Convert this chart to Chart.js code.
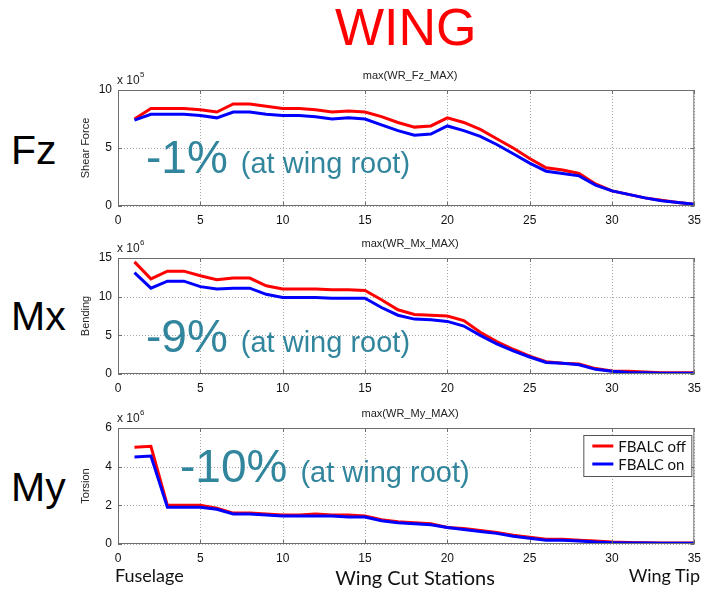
<!DOCTYPE html>
<html><head><meta charset="utf-8">
<script src="https://cdn.jsdelivr.net/npm/chart.js@4"></script>
<style>
body{margin:0;background:#fff;width:708px;height:591px;position:relative;overflow:hidden;font-family:"Liberation Sans",Arial,sans-serif}
.t{position:absolute;white-space:nowrap;line-height:1}
canvas{position:absolute}
.big{font-size:41px;color:#000}
.ann{font-size:46px;color:#31859C}
.ann span{font-size:29px;margin-left:13px}
.cal{font-family:Lato,"Open Sans",sans-serif;color:#111}
</style></head><body>
<div class="t" style="left:335px;top:1px;font-size:52px;color:#ff0000">WING</div>
<div class="t big" style="left:11px;top:130px">Fz</div>
<div class="t big" style="left:11px;top:296px">Mx</div>
<div class="t big" style="left:11px;top:467px">My</div>
<canvas id="c1" width="638" height="165" style="left:70px;top:60px"></canvas>
<canvas id="c2" width="638" height="165" style="left:70px;top:230px"></canvas>
<canvas id="c3" width="638" height="165" style="left:70px;top:400px"></canvas>
<div class="t ann" style="left:146px;top:134px">-1%<span>(at wing root)</span></div>
<div class="t ann" style="left:146px;top:313px">-9%<span>(at wing root)</span></div>
<div class="t ann" style="left:180px;top:443px">-10%<span>(at wing root)</span></div>
<div class="t cal" style="left:115px;top:566px;font-size:18px">Fuselage</div>
<div class="t cal" style="left:315px;width:200px;text-align:center;top:567px;font-size:20px">Wing Cut Stations</div>
<div class="t cal" style="left:600px;width:100px;text-align:right;top:566px;font-size:18px">Wing Tip</div>
<script>
const stations = [1,2,3,4,5,6,7,8,9,10,11,12,13,14,15,16,17,18,19,20,21,22,23,24,25,26,27,28,29,30,31,32,33,34,35];
const seriesNames = ['FBALC off','FBALC on'];
const fzOff = [7.5,8.4,8.4,8.4,8.3,8.1,8.8,8.8,8.6,8.4,8.4,8.3,8.1,8.2,8.1,7.7,7.2,6.8,6.9,7.6,7.2,6.6,5.8,5.0,4.1,3.3,3.1,2.8,1.9,1.3,1.0,0.7,0.5,0.3,0.15];
const fzOn  = [7.4,7.9,7.9,7.9,7.8,7.6,8.1,8.1,7.9,7.8,7.8,7.7,7.5,7.6,7.5,7.0,6.5,6.1,6.2,6.9,6.5,6.0,5.3,4.5,3.7,3.0,2.8,2.6,1.8,1.3,1.0,0.7,0.45,0.3,0.15];
const mxOff = [14.5,12.3,13.3,13.3,12.7,12.2,12.4,12.4,11.4,11.0,11.0,11.0,10.9,10.9,10.8,9.6,8.3,7.7,7.6,7.5,6.9,5.4,4.2,3.2,2.3,1.6,1.4,1.3,0.7,0.4,0.35,0.25,0.15,0.15,0.15];
const mxOn  = [13.1,11.1,12.0,12.0,11.3,11.0,11.1,11.1,10.3,9.9,9.9,9.9,9.8,9.8,9.8,8.6,7.6,7.1,7.0,6.8,6.2,5.0,3.9,3.0,2.2,1.5,1.4,1.2,0.6,0.35,0.2,0.15,0.1,0.1,0.1];
const myOff = [5.0,5.05,2.0,2.0,2.0,1.85,1.6,1.6,1.55,1.5,1.5,1.55,1.5,1.5,1.45,1.25,1.15,1.1,1.05,0.85,0.8,0.7,0.6,0.45,0.35,0.25,0.25,0.2,0.15,0.1,0.08,0.07,0.05,0.05,0.05];
const myOn  = [4.5,4.55,1.9,1.9,1.9,1.8,1.55,1.55,1.5,1.45,1.45,1.45,1.45,1.4,1.4,1.2,1.1,1.05,1.0,0.85,0.75,0.65,0.55,0.4,0.3,0.2,0.2,0.15,0.1,0.07,0.05,0.05,0.04,0.04,0.04];
const xTicks = {min:0,max:35,step:5};

const deco = {
  id:'deco',
  beforeDatasetsDraw(chart){
    const {ctx, chartArea:a} = chart;
    const xs = chart.scales.x, ys = chart.scales.y;
    ctx.save();
    ctx.strokeStyle='#a8a8a8'; ctx.lineWidth=1; ctx.setLineDash([1,2]);
    ctx.beginPath();
    xs.ticks.forEach(t=>{const px=Math.round(xs.getPixelForValue(t.value))+0.5;
      ctx.moveTo(px,a.top);ctx.lineTo(px,a.bottom);});
    ys.ticks.forEach(t=>{const py=Math.round(ys.getPixelForValue(t.value))+0.5;
      ctx.moveTo(a.left,py);ctx.lineTo(a.right,py);});
    ctx.stroke();
    ctx.restore();
  },
  afterDraw(chart, args, o){
    const {ctx, chartArea:a} = chart;
    const xs = chart.scales.x, ys = chart.scales.y;
    ctx.save();
    ctx.strokeStyle='#6e6e6e'; ctx.lineWidth=1;
    ctx.strokeRect(a.left+0.5, a.top+0.5, a.width-1, a.height-1);
    ctx.beginPath();
    xs.ticks.forEach(t=>{const px=Math.round(xs.getPixelForValue(t.value))+0.5;
      ctx.moveTo(px,a.bottom);ctx.lineTo(px,a.bottom-4);ctx.moveTo(px,a.top);ctx.lineTo(px,a.top+4);});
    ys.ticks.forEach(t=>{const py=Math.round(ys.getPixelForValue(t.value))+0.5;
      ctx.moveTo(a.left,py);ctx.lineTo(a.left+4,py);ctx.moveTo(a.right,py);ctx.lineTo(a.right-4,py);});
    ctx.stroke();
    ctx.fillStyle='#222';
    ctx.font='11px "Liberation Sans"'; ctx.textAlign='center'; ctx.textBaseline='alphabetic';
    ctx.fillText(o.title,(a.left+a.right)/2+4,a.top-11);
    ctx.textAlign='left';
    ctx.font='12px "Liberation Sans"';
    ctx.fillText('x 10',a.left-1,a.top-6);
    ctx.font='8px "Liberation Sans"';
    ctx.fillText(o.exp,a.left+22,a.top-13);
    ctx.save();
    ctx.translate(16,(a.top+a.bottom)/2);
    ctx.rotate(-Math.PI/2);
    ctx.font='11px "Liberation Sans"'; ctx.textAlign='center'; ctx.textBaseline='middle';
    ctx.fillText(o.ylabel,0,0);
    ctx.restore();
    if(o.legend){
      const L=a.right-111, T=a.top+7, W=108, H=41;
      ctx.fillStyle='#fff'; ctx.fillRect(L,T,W,H);
      ctx.strokeStyle='#555'; ctx.lineWidth=1; ctx.strokeRect(L+0.5,T+0.5,W,H);
      const ds=chart.data.datasets;
      [0,1].forEach(i=>{
        const y=T+11+i*18;
        ctx.strokeStyle=ds[i].borderColor; ctx.lineWidth=3;
        ctx.beginPath(); ctx.moveTo(L+9,y); ctx.lineTo(L+30,y); ctx.stroke();
        ctx.fillStyle='#111'; ctx.font='15px Lato'; ctx.textAlign='left'; ctx.textBaseline='middle';
        ctx.fillText(ds[i].label,L+35,y+1);
      });
    }
    ctx.restore();
  }
};

function make(id, padTop, xh, yMax, yStep, off, on, d){
  const pts = arr => stations.map((s,i)=>({x:s,y:arr[i]}));
  new Chart(document.getElementById(id),{
    type:'line',
    data:{datasets:[
      {label:seriesNames[0],data:pts(off),borderColor:'#ff0000',borderWidth:3,pointRadius:0,tension:0,order:1},
      {label:seriesNames[1],data:pts(on),borderColor:'#0000ff',borderWidth:3,pointRadius:0,tension:0,order:0}
    ]},
    options:{
      responsive:false,devicePixelRatio:1,animation:false,
      layout:{padding:{top:padTop,right:8,left:0,bottom:0}},
      plugins:{legend:{display:false},tooltip:{enabled:false},deco:d},
      scales:{
        x:{type:'linear',min:xTicks.min,max:xTicks.max,
           ticks:{stepSize:xTicks.step,padding:7,color:'#111',font:{family:'Liberation Sans',size:12},maxRotation:0},
           grid:{display:false,drawTicks:false},border:{display:false},
           afterFit:s=>{s.height=xh;}},
        y:{min:0,max:yMax,
           ticks:{stepSize:yStep,padding:6,color:'#111',font:{family:'Liberation Sans',size:12}},
           grid:{display:false,drawTicks:false},border:{display:false},
           afterFit:s=>{s.width=48;}}
      }
    },
    plugins:[deco]
  });
}
make('c1',30,19,10,5,fzOff,fzOn,{title:'max(WR_Fz_MAX)',exp:'5',ylabel:'Shear Force'});
make('c2',28,21,15,5,mxOff,mxOn,{title:'max(WR_Mx_MAX)',exp:'6',ylabel:'Bending'});
make('c3',28,21,6,2,myOff,myOn,{title:'max(WR_My_MAX)',exp:'6',ylabel:'Torsion',legend:true});
</script>
</body></html>
